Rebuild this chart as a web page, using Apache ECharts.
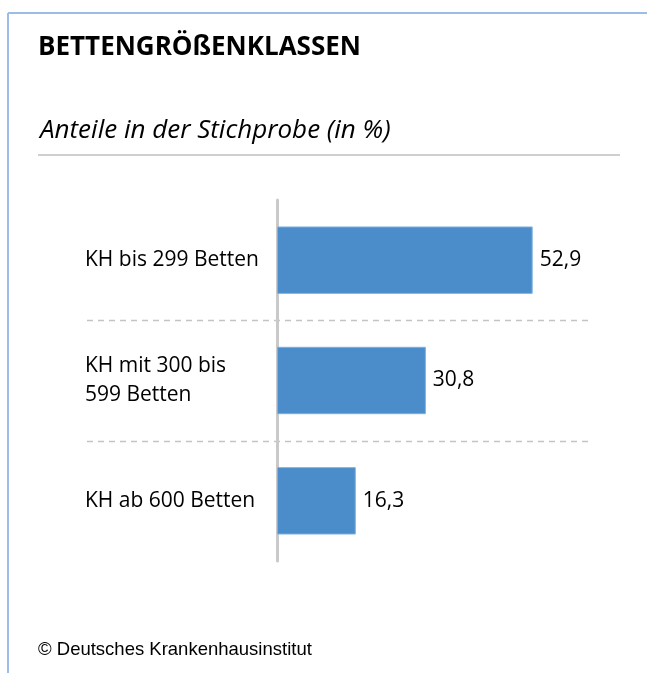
<!DOCTYPE html>
<html>
<head>
<meta charset="utf-8">
<script src="https://cdn.jsdelivr.net/npm/echarts@6/dist/echarts.min.js"></script>
<style>
  html, body { margin: 0; padding: 0; background: #fff; }
  #chart { width: 647px; height: 673px; }
</style>
</head>
<body>
<div id="chart"></div>
<script>
// Bettengrößenklassen, Anteile in der Stichprobe (in %)
var categories = ['KH bis 299 Betten', 'KH mit 300 bis\n599 Betten', 'KH ab 600 Betten'];
var shares = [52.9, 30.8, 16.3];

var chart = echarts.init(document.getElementById('chart'));

var option = {
  animation: false,
  backgroundColor: '#fff',
  title: [{
    text: 'BETTENGRÖßENKLASSEN',
    left: 33,
    top: 30,
    textStyle: { fontFamily: 'Open Sans', fontWeight: 'bold', fontSize: 26, color: '#000' }
  }, {
    text: 'Anteile in der Stichprobe (in %)',
    left: 35,
    top: 113,
    textStyle: { fontFamily: 'Open Sans', fontStyle: 'italic', fontWeight: 'normal', fontSize: 26, color: '#000' }
  }, {
    text: '© Deutsches Krankenhausinstitut',
    left: 33,
    top: 635,
    textStyle: { fontFamily: 'Liberation Sans', fontWeight: 'normal', fontSize: 18.5, color: '#000' }
  }],
  grid: { left: 277, right: 80, top: 200, height: 361 },
  xAxis: {
    type: 'value',
    min: 0,
    max: 60,
    show: false
  },
  yAxis: {
    type: 'category',
    data: categories,
    inverse: true,
    axisLine: { show: true, lineStyle: { color: '#c9c9c9', width: 3 } },
    axisTick: { show: false },
    splitLine: { show: false },
    axisLabel: {
      align: 'left',
      margin: 192,
      fontFamily: 'Open Sans',
      fontSize: 21,
      lineHeight: 29,
      color: '#000'
    }
  },
  series: [{
    type: 'bar',
    data: shares,
    barCategoryGap: '44%',
    itemStyle: { color: '#4a8dca', borderColor: '#7fb1de', borderWidth: 1 },
    label: {
      show: true,
      position: 'right',
      distance: 7,
      fontFamily: 'Open Sans',
      fontSize: 21,
      color: '#000',
      formatter: function (p) { return p.value.toFixed(1).replace('.', ','); }
    }
  }]
};

chart.setOption(option);

// dashed separators between categories, frame lines and rule under subtitle
var graphics = [
  { type: 'line', shape: { x1: 8, y1: 13, x2: 647, y2: 13 }, style: { stroke: '#9dbde6', lineWidth: 2 } },
  { type: 'line', shape: { x1: 8, y1: 13, x2: 8, y2: 673 }, style: { stroke: '#9dbde6', lineWidth: 2 } },
  { type: 'line', shape: { x1: 38, y1: 155, x2: 620, y2: 155 }, style: { stroke: '#cfcfcf', lineWidth: 2 } }
];
for (var i = 0; i < categories.length - 1; i++) {
  var a = chart.convertToPixel({ yAxisIndex: 0 }, i);
  var b = chart.convertToPixel({ yAxisIndex: 0 }, i + 1);
  var y = Math.round((a + b) / 2) + 0.5;
  graphics.push({
    type: 'line',
    shape: { x1: 87, y1: y, x2: 590, y2: y },
    style: { stroke: '#c4c4c4', lineWidth: 1.4, lineDash: [6, 5] }
  });
}
chart.setOption({ graphic: graphics });
</script>
</body>
</html>
